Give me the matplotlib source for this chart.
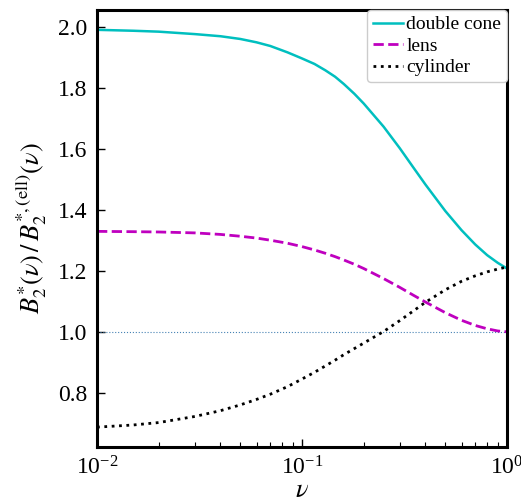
import matplotlib
matplotlib.use("Agg")
import matplotlib.pyplot as plt
import numpy as np

plt.rcParams['font.family'] = 'serif'
plt.rcParams['font.serif'] = ['Liberation Serif', 'DejaVu Serif']
plt.rcParams['mathtext.fontset'] = 'stix'

# values
nu = [0.01, 0.015, 0.02, 0.03, 0.04, 0.05, 0.06, 0.07, 0.085, 0.1, 0.115,
      0.13, 0.145, 0.16, 0.18, 0.2, 0.25, 0.3, 0.35, 0.4, 0.5, 0.6, 0.7,
      0.8, 0.9, 1.0]
double_cone = [1.992, 1.989, 1.986, 1.978, 1.971, 1.962, 1.951, 1.939, 1.918,
               1.898, 1.880, 1.859, 1.838, 1.814, 1.782, 1.750, 1.674, 1.603,
               1.539, 1.484, 1.397, 1.334, 1.287, 1.252, 1.227, 1.208]
lens = [1.330, 1.329, 1.328, 1.325, 1.320, 1.314, 1.308, 1.301, 1.291, 1.280,
        1.269, 1.258, 1.247, 1.236, 1.222, 1.208, 1.175, 1.146, 1.120, 1.098,
        1.063, 1.038, 1.021, 1.010, 1.003, 1.000]
cylinder = [0.687, 0.694, 0.702, 0.722, 0.741, 0.760, 0.778, 0.795, 0.820,
            0.845, 0.867, 0.888, 0.907, 0.925, 0.945, 0.963, 1.001, 1.037,
            1.069, 1.097, 1.138, 1.166, 1.184, 1.197, 1.206, 1.213]
labels = ['double cone', 'lens', 'cylinder']

fig = plt.figure(figsize=(5.21, 5.01), dpi=100)
ax = fig.add_axes([0.1862, 0.1078, 0.7869, 0.8723])

ax.axhline(1.0, color='steelblue', lw=0.8, ls=':')
ax.plot(nu, double_cone, color='c', lw=1.8, ls='-', label=labels[0])
ax.plot(nu, lens, color='m', lw=2, ls='--', label=labels[1])
ax.plot(nu, cylinder, color='k', lw=2, ls=':', label=labels[2])

ax.set_xscale('log')
ax.set_xlim(1e-2, 1e0)
ax.set_yticks([0.8, 1.0, 1.2, 1.4, 1.6, 1.8, 2.0])

for s in ax.spines.values():
    s.set_linewidth(2.2)
ax.tick_params(which='both', direction='in', labelsize=17, pad=7)
ax.tick_params(which='major', length=6, width=1)
ax.tick_params(which='minor', length=3.5, width=0.8)

ax.set_xlabel(r'$\nu$', fontsize=19, labelpad=0)
ax.set_ylabel(r'$B_2^{*}(\nu)\,/\,B_2^{*,\mathrm{(ell)}}(\nu)$', fontsize=19, labelpad=6)

ax.legend(loc='upper right', fontsize=14, borderaxespad=0.0, framealpha=1,
          handlelength=1.55, labelspacing=0.2, borderpad=0.3, handletextpad=0.15)

fig.savefig('out.png', dpi=100)
